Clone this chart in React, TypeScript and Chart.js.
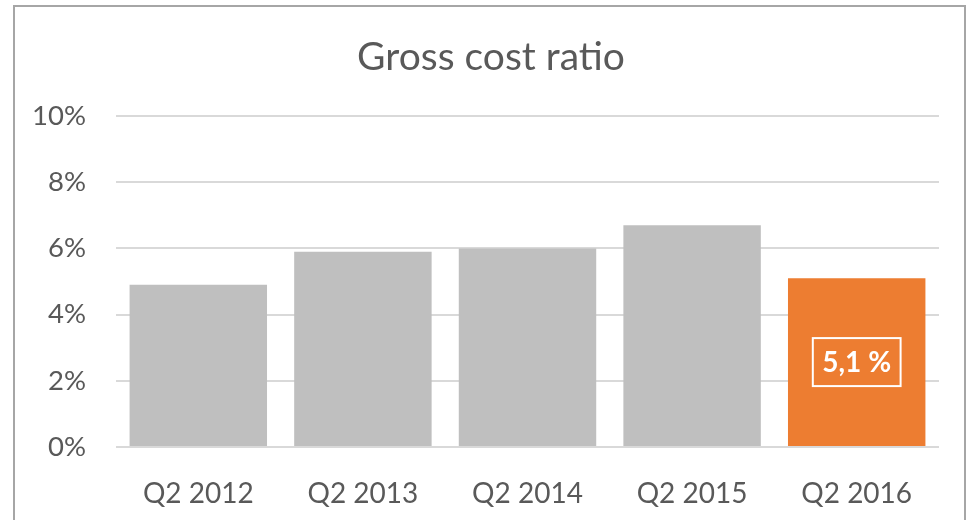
import React, { useEffect, useRef } from "react";
import { Chart, registerables } from "chart.js";

Chart.register(...registerables);

const categories = ["Q2 2012", "Q2 2013", "Q2 2014", "Q2 2015", "Q2 2016"];
const values = [4.9, 5.9, 6.0, 6.7, 5.1];
const barColors = ["#BFBFBF", "#BFBFBF", "#BFBFBF", "#BFBFBF", "#ED7D31"];
const highlightLabel = "5,1 %";
const titleText = "Gross cost ratio";

const FONT = "Lato, 'Open Sans', sans-serif";

const labelPlugin = {
  id: "boxLabel",
  afterDatasetsDraw(chart: any) {
    const meta = chart.getDatasetMeta(0);
    const idx = values.length - 1;
    const bar = meta.data[idx];
    if (!bar) return;
    const { x, y, base } = bar.getProps(["x", "y", "base"], true);
    const cy = (y + base) / 2;
    const ctx = chart.ctx;
    ctx.save();
    ctx.font = `bold 28px ${FONT}`;
    ctx.fillStyle = "#FFFFFF";
    ctx.textAlign = "center";
    ctx.textBaseline = "middle";
    ctx.fillText(highlightLabel, x, cy + 1);
    const w = ctx.measureText(highlightLabel).width + 19;
    const h = 48;
    ctx.strokeStyle = "#FFFFFF";
    ctx.lineWidth = 2;
    ctx.strokeRect(x - w / 2, cy - h / 2, w, h);
    ctx.restore();
  },
};

const titlePlugin = {
  id: "customTitle",
  afterDraw(chart: any) {
    const ctx = chart.ctx;
    ctx.save();
    ctx.font = `39px ${FONT}`;
    ctx.fillStyle = "#595959";
    ctx.textAlign = "center";
    ctx.textBaseline = "middle";
    ctx.fillText(titleText, 491, 57);
    ctx.restore();
  },
};

export default function App() {
  const ref = useRef<HTMLCanvasElement>(null);
  useEffect(() => {
    document.body.style.margin = "0";
    const chart = new Chart(ref.current!, {
      type: "bar",
      data: {
        labels: categories,
        datasets: [
          {
            data: values,
            backgroundColor: barColors,
            categoryPercentage: 0.835,
            barPercentage: 1,
          },
        ],
      },
      options: {
        animation: false,
        responsive: false,
        maintainAspectRatio: false,
        layout: { padding: { left: 0, right: 31, top: 116, bottom: 0 } },
        plugins: {
          legend: { display: false },
          tooltip: { enabled: false },
          title: { display: false },
        },
        scales: {
          x: {
            grid: { display: false },
            border: { display: false },
            ticks: {
              color: "#595959",
              font: { family: FONT, size: 28 },
              padding: 22,
            },
            afterFit(scale: any) {
              scale.height = 73;
            },
          },
          y: {
            min: 0,
            max: 10,
            ticks: {
              stepSize: 2,
              color: "#595959",
              font: { family: FONT, size: 27.5 },
              padding: 30,
              callback: (v: any) => `${v}%`,
            },
            grid: { color: "#D9D9D9", lineWidth: 2, drawTicks: false },
            border: { display: false },
            afterFit(scale: any) {
              scale.width = 116;
            },
          },
        },
      },
      plugins: [labelPlugin, titlePlugin],
    });
    return () => chart.destroy();
  }, []);
  return (
    <div style={{ position: "relative", width: 970, height: 520, overflow: "hidden", background: "#fff" }}>
      <canvas ref={ref} width={970} height={520} style={{ position: "absolute", left: 0, top: 0 }} />
      <div
        style={{
          position: "absolute",
          left: 13,
          top: 5,
          width: 953,
          height: 560,
          border: "2px solid #A6A6A6",
          boxSizing: "border-box",
          pointerEvents: "none",
        }}
      />
    </div>
  );
}
